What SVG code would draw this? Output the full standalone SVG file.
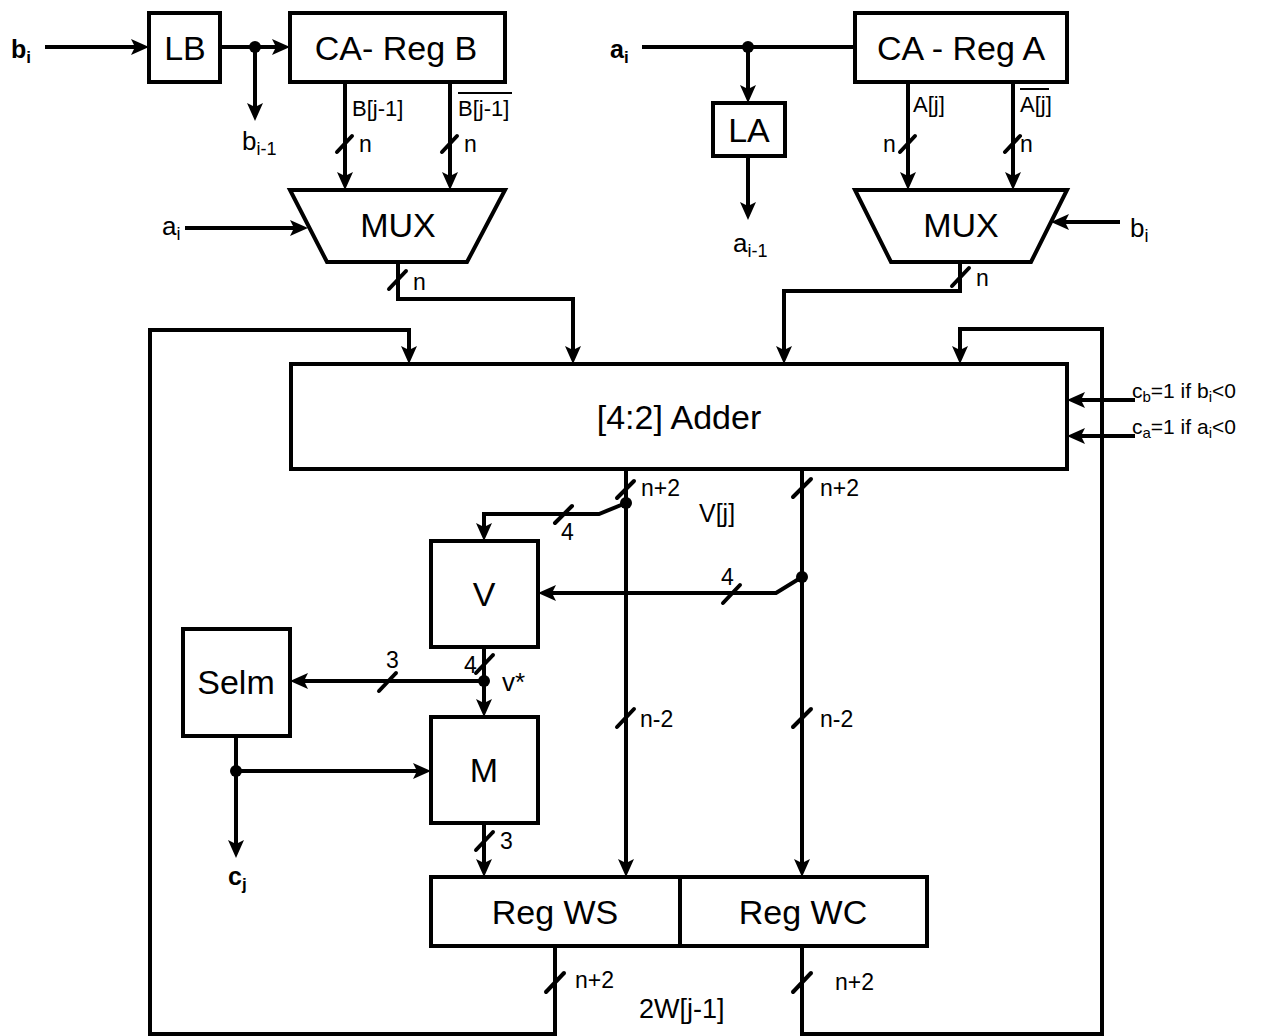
<svg xmlns="http://www.w3.org/2000/svg" width="1263" height="1036" viewBox="0 0 1263 1036">
<defs>
<style>
.box{fill:#fff;stroke:#000;stroke-width:4;stroke-linejoin:miter}
.ln{fill:none;stroke:#000;stroke-width:4;stroke-linejoin:miter}
.sl{stroke:#000;stroke-width:4;stroke-linecap:round}
.t{font-family:"Liberation Sans",Arial,sans-serif;fill:#000}
.big{font-size:34px;text-anchor:middle}
.sm{font-size:23px}
.md{font-size:26px}
.b{font-weight:bold}
</style>
<marker id="arr" markerUnits="userSpaceOnUse" viewBox="0 0 18 18" markerWidth="18" markerHeight="18" refX="10" refY="9" orient="auto">
<path d="M0,1 L18,9 L0,17 L4,9 Z" fill="#000"/>
</marker>
</defs>
<rect width="1263" height="1036" fill="#fff"/>

<g id="connectors">
<path class="ln" d="M45,47 H141" marker-end="url(#arr)"/>
<path class="ln" d="M220,47 H282" marker-end="url(#arr)"/>
<path class="ln" d="M255,47 V113" marker-end="url(#arr)"/>
<path class="ln" d="M345,82 V182" marker-end="url(#arr)"/>
<path class="ln" d="M450,82 V182" marker-end="url(#arr)"/>
<path class="ln" d="M185,228 H300" marker-end="url(#arr)"/>
<path class="ln" d="M398,262 V299 H573 V356" marker-end="url(#arr)"/>
<path class="ln" d="M642,47 H855"/>
<path class="ln" d="M748,47 V95" marker-end="url(#arr)"/>
<path class="ln" d="M748,156 V212" marker-end="url(#arr)"/>
<path class="ln" d="M908,82 V182" marker-end="url(#arr)"/>
<path class="ln" d="M1013,82 V182" marker-end="url(#arr)"/>
<path class="ln" d="M1120,222 H1059" marker-end="url(#arr)"/>
<path class="ln" d="M960,262 V291 H784 V356" marker-end="url(#arr)"/>
<path class="ln" d="M555,946 V1034 H150 V330 H409 V356" marker-end="url(#arr)"/>
<path class="ln" d="M802,946 V1034 H1102 V329 H960 V356" marker-end="url(#arr)"/>
<path class="ln" d="M1135,400 H1075" marker-end="url(#arr)"/>
<path class="ln" d="M1135,436 H1075" marker-end="url(#arr)"/>
<path class="ln" d="M626,469 V869" marker-end="url(#arr)"/>
<path class="ln" d="M802,469 V869" marker-end="url(#arr)"/>
<path class="ln" d="M626,503 L599,514 H484 V533" marker-end="url(#arr)"/>
<path class="ln" d="M802,577 L776,593 H546" marker-end="url(#arr)"/>
<path class="ln" d="M484,647 V709" marker-end="url(#arr)"/>
<path class="ln" d="M484,681 H298" marker-end="url(#arr)"/>
<path class="ln" d="M236,736 V850" marker-end="url(#arr)"/>
<path class="ln" d="M236,771 H423" marker-end="url(#arr)"/>
<path class="ln" d="M484,823 V869" marker-end="url(#arr)"/>
<circle cx="255" cy="47" r="6"/>
<circle cx="748" cy="47" r="6"/>
<circle cx="626" cy="503" r="6"/>
<circle cx="802" cy="577" r="6"/>
<circle cx="484" cy="681" r="6"/>
<circle cx="236" cy="771" r="6"/>
<g id="bus-marks">
<line class="sl" x1="337" y1="152" x2="352" y2="136"/>
<line class="sl" x1="442" y1="152" x2="457" y2="136"/>
<line class="sl" x1="900" y1="152" x2="915" y2="136"/>
<line class="sl" x1="1005" y1="152" x2="1020" y2="136"/>
<line class="sl" x1="389" y1="289" x2="406" y2="271"/>
<line class="sl" x1="952" y1="286" x2="969" y2="268"/>
<line class="sl" x1="617" y1="498" x2="634" y2="481"/>
<line class="sl" x1="793" y1="497" x2="811" y2="479"/>
<line class="sl" x1="555" y1="523" x2="572" y2="506"/>
<line class="sl" x1="723" y1="603" x2="740" y2="585"/>
<line class="sl" x1="476" y1="673" x2="493" y2="655"/>
<line class="sl" x1="379" y1="691" x2="396" y2="673"/>
<line class="sl" x1="476" y1="850" x2="493" y2="832"/>
<line class="sl" x1="617" y1="727" x2="634" y2="709"/>
<line class="sl" x1="793" y1="727" x2="811" y2="709"/>
<line class="sl" x1="546" y1="992" x2="564" y2="973"/>
<line class="sl" x1="793" y1="992" x2="811" y2="973"/>
</g>
</g>

<g id="LB"><rect class="box" x="149" y="13" width="71" height="69"/><text class="t big" x="185" y="60">LB</text></g>
<g id="CARegB"><rect class="box" x="290" y="13" width="215" height="69"/><text class="t big" x="396" y="60">CA- Reg B</text></g>
<g id="MUXB"><polygon class="box" points="290,190 505,190 467,262 327,262"/><text class="t big" x="398" y="237">MUX</text></g>
<g id="LA"><rect class="box" x="713" y="103" width="72" height="53"/><text class="t big" x="749" y="142">LA</text></g>
<g id="CARegA"><rect class="box" x="855" y="13" width="212" height="69"/><text class="t big" x="961" y="60">CA - Reg A</text></g>
<g id="MUXA"><polygon class="box" points="855,190 1067,190 1031,262 891,262"/><text class="t big" x="961" y="237">MUX</text></g>
<g id="Adder"><rect class="box" x="291" y="364" width="776" height="105"/><text class="t big" x="679" y="429">[4:2] Adder</text></g>
<g id="V"><rect class="box" x="431" y="541" width="107" height="106"/><text class="t big" x="484" y="606">V</text></g>
<g id="Selm"><rect class="box" x="183" y="629" width="107" height="107"/><text class="t big" x="236" y="694">Selm</text></g>
<g id="M"><rect class="box" x="431" y="717" width="107" height="106"/><text class="t big" x="484" y="782">M</text></g>
<g id="RegWS"><rect class="box" x="431" y="877" width="249" height="69"/><text class="t big" x="555" y="924">Reg WS</text></g>
<g id="RegWC"><rect class="box" x="680" y="877" width="247" height="69"/><text class="t big" x="803" y="924">Reg WC</text></g>

<g id="labels">
<text class="t b" x="11" y="58" font-size="25">b<tspan font-size="17" dy="5">i</tspan></text>
<text class="t md" x="242" y="150">b<tspan font-size="18" dy="5">i-1</tspan></text>
<text class="t" x="352" y="116" font-size="22">B[j-1]</text>
<text class="t" x="458" y="116" font-size="22">B[j-1]</text>
<line x1="458" y1="93" x2="512" y2="93" stroke="#000" stroke-width="2"/>
<text class="t sm" x="359" y="152">n</text>
<text class="t sm" x="464" y="152">n</text>
<text class="t md" x="162" y="235">a<tspan font-size="18" dy="5">i</tspan></text>
<text class="t sm" x="413" y="290">n</text>
<text class="t b" x="610" y="58" font-size="25">a<tspan font-size="17" dy="5">i</tspan></text>
<text class="t" x="913" y="112" font-size="22">A[j]</text>
<text class="t" x="1020" y="112" font-size="22">A[j]</text>
<line x1="1020" y1="89" x2="1049" y2="89" stroke="#000" stroke-width="2"/>
<text class="t sm" x="883" y="152">n</text>
<text class="t sm" x="1020" y="152">n</text>
<text class="t md" x="733" y="252">a<tspan font-size="18" dy="5">i-1</tspan></text>
<text class="t md" x="1130" y="237">b<tspan font-size="18" dy="5">i</tspan></text>
<text class="t sm" x="976" y="286">n</text>
<text class="t" x="1132" y="398" font-size="21">c<tspan font-size="15" dy="4">b</tspan><tspan dy="-4">=1 if b</tspan><tspan font-size="15" dy="4">i</tspan><tspan dy="-4">&lt;0</tspan></text>
<text class="t" x="1132" y="434" font-size="21">c<tspan font-size="15" dy="4">a</tspan><tspan dy="-4">=1 if a</tspan><tspan font-size="15" dy="4">i</tspan><tspan dy="-4">&lt;0</tspan></text>
<text class="t sm" x="641" y="496">n+2</text>
<text class="t sm" x="820" y="496">n+2</text>
<text class="t" x="699" y="522" font-size="25">V[j]</text>
<text class="t sm" x="561" y="540">4</text>
<text class="t sm" x="721" y="585">4</text>
<text class="t sm" x="464" y="673">4</text>
<text class="t md" x="502" y="691">v*</text>
<text class="t sm" x="386" y="668">3</text>
<text class="t sm" x="500" y="849">3</text>
<text class="t b" x="228" y="885" font-size="25">c<tspan font-size="17" dy="5">j</tspan></text>
<text class="t sm" x="640" y="727">n-2</text>
<text class="t sm" x="820" y="727">n-2</text>
<text class="t sm" x="575" y="988">n+2</text>
<text class="t sm" x="835" y="990">n+2</text>
<text class="t" x="639" y="1018" font-size="27">2W[j-1]</text>
</g>
</svg>
